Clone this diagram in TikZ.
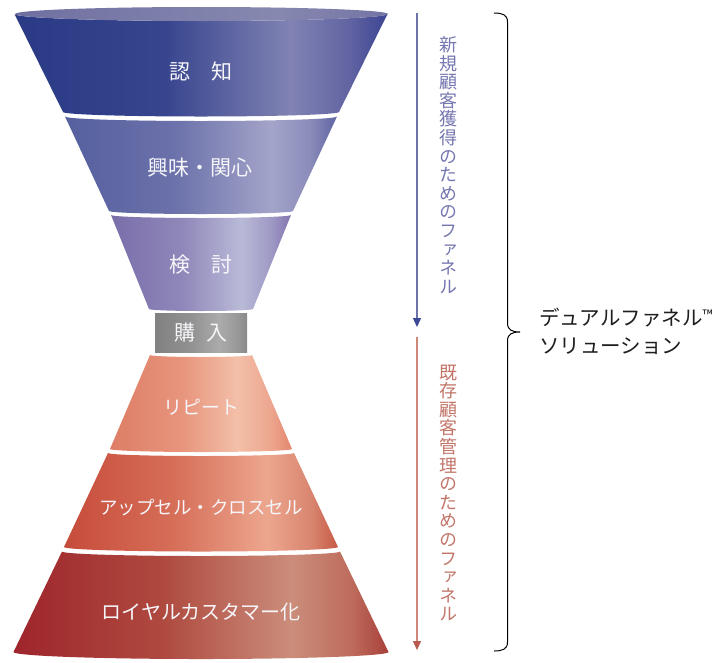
\documentclass[tikz,border=0pt]{standalone}
\usepackage{fontspec}
\setmainfont{Noto Sans CJK JP}
\newfontfamily\jp{Noto Sans CJK JP}
\newfontfamily\vjp[RawFeature=+vert]{Noto Sans CJK JP}
\usetikzlibrary{arrows.meta}

\definecolor{aA}{HTML}{2A3A84}\definecolor{aB}{HTML}{37448E}\definecolor{aC}{HTML}{8083B3}\definecolor{aD}{HTML}{6163A2}\definecolor{aE}{HTML}{3B4592}
\definecolor{bA}{HTML}{56609F}\definecolor{bB}{HTML}{6B71AA}\definecolor{bC}{HTML}{A3A4C9}\definecolor{bD}{HTML}{8B8CBA}\definecolor{bE}{HTML}{5F64A2}
\definecolor{cA}{HTML}{7A6EAA}\definecolor{cB}{HTML}{9088BA}\definecolor{cC}{HTML}{B9B9D7}\definecolor{cD}{HTML}{A09CC6}\definecolor{cE}{HTML}{8475AF}
\definecolor{gA}{HTML}{818181}\definecolor{gB}{HTML}{929292}\definecolor{gC}{HTML}{ABABAB}\definecolor{gD}{HTML}{9A9A9A}\definecolor{gE}{HTML}{8A8A8A}
\definecolor{dA}{HTML}{DE7D66}\definecolor{dB}{HTML}{E8957D}\definecolor{dC}{HTML}{F3BFA8}\definecolor{dD}{HTML}{EDA68F}\definecolor{dE}{HTML}{E4866D}
\definecolor{eA}{HTML}{C64C3A}\definecolor{eB}{HTML}{D66E58}\definecolor{eC}{HTML}{EDA68E}\definecolor{eD}{HTML}{D98670}\definecolor{eE}{HTML}{C65A45}
\definecolor{fA}{HTML}{9E252C}\definecolor{fB}{HTML}{AF4A3F}\definecolor{fC}{HTML}{CB8D7B}\definecolor{fD}{HTML}{BE6C5C}\definecolor{fE}{HTML}{A8403A}
\definecolor{topA}{HTML}{6F70A0}\definecolor{topB}{HTML}{8788B0}\definecolor{topC}{HTML}{7374A4}
\definecolor{bluetxt}{HTML}{7577B0}
\definecolor{redtxt}{HTML}{C27568}
\definecolor{blueline}{HTML}{6E73AA}
\definecolor{bluetip}{HTML}{3C4A96}
\definecolor{redline}{HTML}{D0887A}
\definecolor{redtip}{HTML}{B85A4E}
\definecolor{labeltxt}{HTML}{F6F6FA}
\definecolor{darktxt}{HTML}{1E1E1E}

% path bbox maps to 25bp..75bp of the shading
\pgfdeclarehorizontalshading{shA}{100bp}{color(0bp)=(aA); color(25bp)=(aA); color(45bp)=(aB); color(62bp)=(aC); color(70bp)=(aD); color(75bp)=(aE); color(100bp)=(aE)}
\pgfdeclarehorizontalshading{shB}{100bp}{color(0bp)=(bA); color(25bp)=(bA); color(45bp)=(bB); color(63bp)=(bC); color(70bp)=(bD); color(75bp)=(bE); color(100bp)=(bE)}
\pgfdeclarehorizontalshading{shC}{100bp}{color(0bp)=(cA); color(25bp)=(cA); color(45bp)=(cB); color(61bp)=(cC); color(69bp)=(cD); color(75bp)=(cE); color(100bp)=(cE)}
\pgfdeclarehorizontalshading{shG}{100bp}{color(0bp)=(gA); color(25bp)=(gA); color(45bp)=(gB); color(60bp)=(gC); color(69bp)=(gD); color(75bp)=(gE); color(100bp)=(gE)}
\pgfdeclarehorizontalshading{shD}{100bp}{color(0bp)=(dA); color(25bp)=(dA); color(45bp)=(dB); color(60bp)=(dC); color(69bp)=(dD); color(75bp)=(dE); color(100bp)=(dE)}
\pgfdeclarehorizontalshading{shE}{100bp}{color(0bp)=(eA); color(25bp)=(eA); color(45bp)=(eB); color(62bp)=(eC); color(70bp)=(eD); color(75bp)=(eE); color(100bp)=(eE)}
\pgfdeclarehorizontalshading{shF}{100bp}{color(0bp)=(fA); color(25bp)=(fA); color(45bp)=(fB); color(62bp)=(fC); color(70bp)=(fD); color(75bp)=(fE); color(100bp)=(fE)}
\pgfdeclarehorizontalshading{shTop}{100bp}{color(0bp)=(topA); color(25bp)=(topA); color(60bp)=(topB); color(75bp)=(topC); color(100bp)=(topC)}

% funnel segment: #1 top y, #2 top half width, #3 top sag, #4 bottom y, #5 bottom half width, #6 bottom sag, #7 shading
\newcommand\funnelseg[7]{%
  \shade[shading=#7]
    (201-#2,#1) .. controls (201-#2,#1+0.55*#3) and (201-0.55*#2,#1+#3) .. (201,#1+#3)
    .. controls (201+0.55*#2,#1+#3) and (201+#2,#1+0.55*#3) .. (201+#2,#1)
    -- (201+#5,#4)
    .. controls (201+#5,#4+0.55*#6) and (201+0.55*#5,#4+#6) .. (201,#4+#6)
    .. controls (201-0.55*#5,#4+#6) and (201-#5,#4+0.55*#6) .. (201-#5,#4)
    -- cycle;}

\newcommand\vertfont{\vjp\fontsize{18}{18.6}\selectfont\lineskiplimit-100pt\relax}

\tikzset{
  seglabel/.style={text=labeltxt, inner sep=0pt, font={\jp\fontsize{21}{24}\selectfont}},
  kanalabel/.style={text=labeltxt, inner sep=0pt, font={\jp\fontsize{19}{24}\selectfont}},
  verttext/.style={inner sep=0pt, align=center, font={\vertfont}},
  bluearrow/.style={draw=blueline, line width=1.3pt, -{Triangle[width=8pt,length=9pt,color=bluetip]}},
  redarrow/.style={draw=redline, line width=1.3pt, -{Triangle[width=8pt,length=9pt,color=redtip]}},
  bracestyle/.style={draw=black, line width=1pt},
}

\begin{document}
\begin{tikzpicture}[x=1pt,y=-1pt]
\useasboundingbox (0,0) rectangle (727,662);
\fill[white] (0,0) rectangle (727,662);

% upper funnel
\funnelseg{14}{186.5}{7}{112}{138}{4.5}{shA}
\shade[shading=shTop] (201.5,14) ellipse [x radius=186.5, y radius=7];
\funnelseg{116.5}{136}{4.5}{211}{92}{3}{shB}
\funnelseg{215}{90}{3}{309}{52}{2}{shC}

% purchase
\shade[shading=shG] (155,313) rectangle (247,352);

% lower funnel
\funnelseg{355}{51}{2}{449}{91}{3}{shD}
\funnelseg{453}{93}{3}{547}{137}{4.5}{shE}
\funnelseg{551.5}{139}{4.5}{652}{187.5}{7}{shF}

% labels
\node[seglabel] (ninchi) at (201,71) {認　知};
\node[seglabel] (kyomi) at (200,168) {興味・関心};
\node[seglabel] (kento) at (201,265) {検　討};
\node[seglabel] (konyu) at (201,333) {購\hspace{0.5em}入};
\node[kanalabel] (repeat) at (201,407) {リピート};
\node[kanalabel, font={\jp\fontsize{18.5}{24}\selectfont}] (upsell) at (201,507) {アップセル・クロスセル};
\node[kanalabel, font={\jp\fontsize{20}{24}\selectfont}] (loyal) at (201,612) {ロイヤルカスタマー化};

% arrows
\coordinate (bs) at (417,13);
\coordinate (be) at (417,327);
\coordinate (rs) at (417,337);
\coordinate (re) at (417,650);
\draw[bluearrow] (bs) -- (be);
\draw[redarrow] (rs) -- (re);

% vertical texts
\node[verttext, text=bluetxt] (newtxt) at (448,165) {新\\規\\顧\\客\\獲\\得\\の\\た\\め\\の\\フ\\ァ\\ネ\\ル};
\node[verttext, text=redtxt] (exitxt) at (448,493) {既\\存\\顧\\客\\管\\理\\の\\た\\め\\の\\フ\\ァ\\ネ\\ル};

% brace
\draw[bracestyle] (494,13) .. controls (503,13) and (507.5,15) .. (507.5,22)
  -- (507.5,323) .. controls (507.5,330) and (512,332) .. (520,332)
  .. controls (512,332) and (507.5,334) .. (507.5,341)
  -- (507.5,642) .. controls (507.5,649) and (503,651) .. (494,651);

% solution label
\node[anchor=west, align=left, inner sep=0pt, text=darktxt, font={\jp\fontsize{20.5}{28}\selectfont}] (dual) at (539,331)
  {デュアルファネル\raisebox{5pt}{\fontsize{14}{14}\selectfont ™}\\ソリューション};
\end{tikzpicture}
\end{document}
